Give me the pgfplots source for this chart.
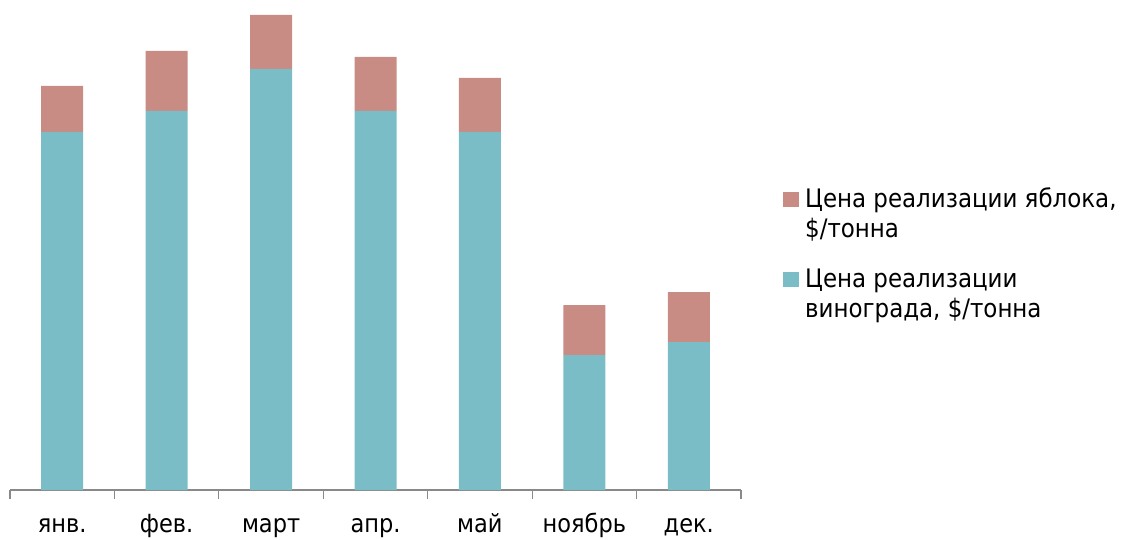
\documentclass[border=0pt]{standalone}
\usepackage{pgfplots}
\pgfplotsset{compat=1.18}
\usepackage{fontspec}
\setmainfont{DejaVu Sans Condensed}
\definecolor{grape}{HTML}{7BBDC6}
\definecolor{apple}{HTML}{C88C84}
\definecolor{axgray}{HTML}{898989}
\begin{document}
\begin{tikzpicture}
\begin{axis}[
  at={(0pt,0pt)}, anchor=south west,
  scale only axis,
  width=731pt, height=490pt,
  ybar stacked, bar width=42pt,
  xmin=-0.5, xmax=6.5, ymin=0, ymax=490,
  axis x line*=bottom, axis y line=none,
  axis line style={axgray, line width=1.2pt},
  xtick={0,...,6},
  xticklabels={янв.,фев.,март,апр.,май,ноябрь,дек.},
  major tick length=0pt,
  minor xtick={-0.5,0.5,...,6.5},
  minor tick length=9pt,
  tick align=outside,
  minor tick style={axgray, line width=1.2pt},
  xticklabel style={font=\fontsize{25}{30}\selectfont, anchor=base, yshift=-42pt},
  legend cell align=left,
  legend style={at={(1.0575,0.621)}, anchor=north west, draw=none, fill=none,
    inner sep=0pt, column sep=6pt, row sep=57pt,
    font=\fontsize{25.5}{30.5}\selectfont,
    cells={anchor=base west}, nodes={inner sep=0pt}},
  reverse legend,
  legend image code/.code={\fill[#1] (0pt,0pt) rectangle (16pt,15pt);},
]
\addplot[fill=grape, draw=none] coordinates {(0,358) (1,379) (2,421) (3,379) (4,358) (5,135) (6,148)};
\addlegendentry{\begin{tabular}[t]{@{}l@{}}Цена реализации\\винограда, \$/тонна\end{tabular}}
\addplot[fill=apple, draw=none] coordinates {(0,46) (1,60) (2,54) (3,54) (4,54) (5,50) (6,50)};
\addlegendentry{\begin{tabular}[t]{@{}l@{}}Цена реализации яблока,\\\$/тонна\end{tabular}}
\end{axis}
\pgfresetboundingbox
\path[use as bounding box] (-10pt,-49pt) rectangle (1118pt,490pt);
\end{tikzpicture}
\end{document}
